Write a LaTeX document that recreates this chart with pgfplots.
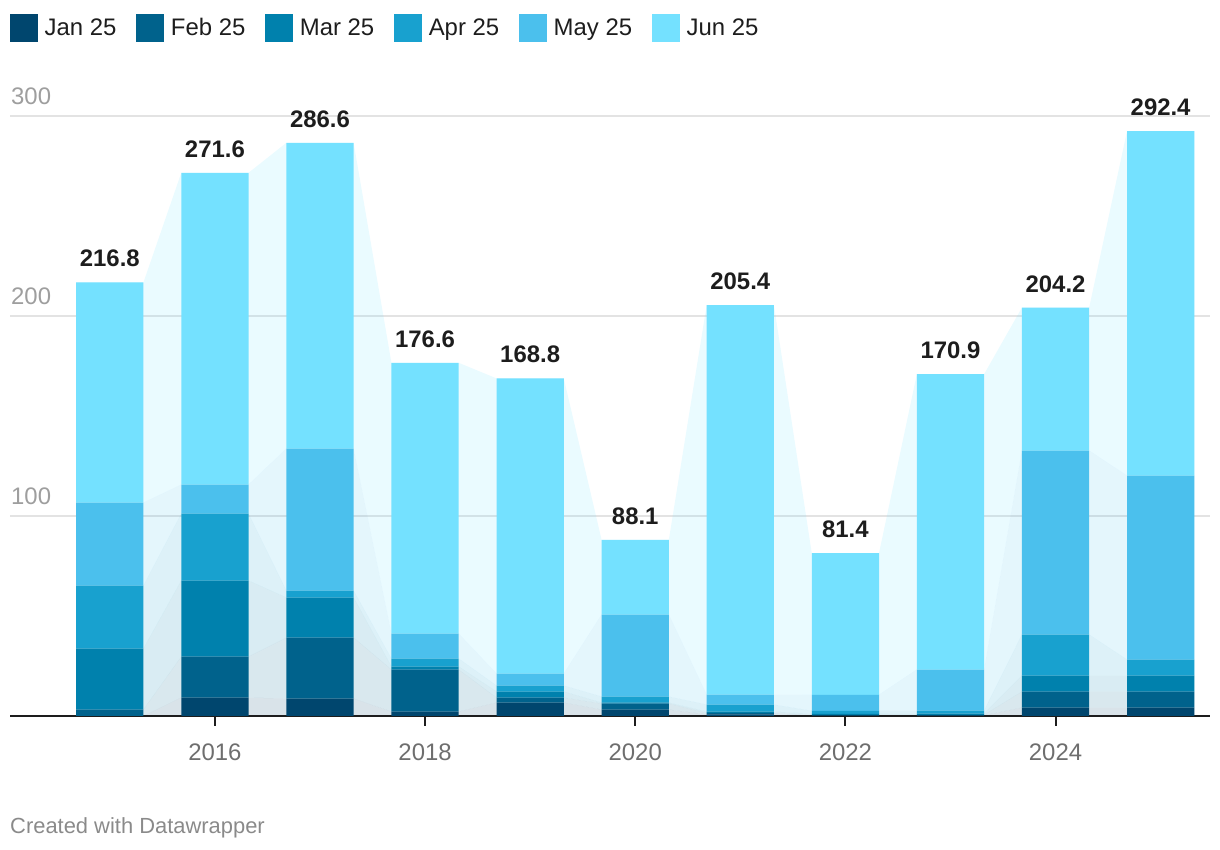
\documentclass[border=0pt]{standalone}
\usepackage{fontspec}
\setmainfont{Liberation Sans}
\usepackage{pgfplots}
\usepackage{pgfplotstable}
\pgfplotsset{compat=1.18}

\definecolor{cJan}{HTML}{00466E}
\definecolor{cFeb}{HTML}{00628C}
\definecolor{cMar}{HTML}{0081AD}
\definecolor{cApr}{HTML}{18A1CF}
\definecolor{cMay}{HTML}{4BC0ED}
\definecolor{cJun}{HTML}{74E1FF}
\definecolor{gridgray}{HTML}{E3E3E3}
\definecolor{ygray}{HTML}{9E9E9E}
\definecolor{xgray}{HTML}{6E6E6E}
\definecolor{footgray}{HTML}{8A8A8A}
\definecolor{txtblack}{HTML}{1D1D1D}

\pgfplotstableread{
year jan feb mar apr may jun total
2015 0   3.2  30.5 31.5 41.5 110.1 216.8
2016 9.2 20.5 38   33.5 14.5 155.9 271.6
2017 8.7 30.5 20   3.5  71   152.9 286.6
2018 2.2 21   1.5  4    12.5 135.4 176.6
2019 6.7 2.5  3    3    6    147.6 168.8
2020 3.2 3    0.5  3    41   37.4  88.1
2021 0.8 0.7  0.7  3.5  5    194.7 205.4
2022 0.3 0.3  0.5  1.5  8    70.8  81.4
2023 0.3 0.3  0.6  1.5  20.5 147.7 170.9
2024 4.2 8    8    20.5 92   71.5  204.2
2025 4.2 8    8    8    92   172.2 292.4
}\bars

\pgfplotstableread{
x jan feb mar apr may jun
2014.68 0   3.2  30.5 31.5 41.5 110.1
2015.32 0   3.2  30.5 31.5 41.5 110.1
2015.68 9.2 20.5 38   33.5 14.5 155.9
2016.32 9.2 20.5 38   33.5 14.5 155.9
2016.68 8.7 30.5 20   3.5  71   152.9
2017.32 8.7 30.5 20   3.5  71   152.9
2017.68 2.2 21   1.5  4    12.5 135.4
2018.32 2.2 21   1.5  4    12.5 135.4
2018.68 6.7 2.5  3    3    6    147.6
2019.32 6.7 2.5  3    3    6    147.6
2019.68 3.2 3    0.5  3    41   37.4
2020.32 3.2 3    0.5  3    41   37.4
2020.68 0.8 0.7  0.7  3.5  5    194.7
2021.32 0.8 0.7  0.7  3.5  5    194.7
2021.68 0.3 0.3  0.5  1.5  8    70.8
2022.32 0.3 0.3  0.5  1.5  8    70.8
2022.68 0.3 0.3  0.6  1.5  20.5 147.7
2023.32 0.3 0.3  0.6  1.5  20.5 147.7
2023.68 4.2 8    8    20.5 92   71.5
2024.32 4.2 8    8    20.5 92   71.5
2024.68 4.2 8    8    8    92   172.2
2025.32 4.2 8    8    8    92   172.2
}\areas

\newcommand\fsize[1]{\fontsize{#1}{#1}\selectfont}

\begin{document}
\begin{tikzpicture}
\path[use as bounding box] (0,0) rectangle (1220bp,850bp);

% background axis: grid, ticks, connector areas
\begin{axis}[
  at={(10bp,134bp)}, anchor=south west,
  scale only axis, width=1200bp, height=600bp,
  xmin=2014.05, xmax=2025.47, ymin=0, ymax=300,
  axis x line*=bottom, axis y line*=left,
  x axis line style={draw=none}, y axis line style={draw=none},
  ytick={100,200,300}, yticklabels={100,200,300},
  ytick style={draw=none},
  ymajorgrids, grid style={draw=gridgray, line width=1.8bp},
  xtick={2016,2018,2020,2022,2024},
  xticklabels={2016,2018,2020,2022,2024},
  tick align=outside, major tick length=10bp,
  xtick style={draw=txtblack, line width=2bp},
  yticklabel style={anchor=south west, inner sep=0pt, xshift=11bp, yshift=11bp,
    text=ygray, font=\fsize{24}},
  xticklabel style={text=xgray, font=\fsize{24}, yshift=-14bp},
  stack plots=y, clip=false,
]
\addplot[fill=cJan, fill opacity=0.15, draw=none] table[x=x, y=jan]{\areas} \closedcycle;
\addplot[fill=cFeb, fill opacity=0.15, draw=none] table[x=x, y=feb]{\areas} \closedcycle;
\addplot[fill=cMar, fill opacity=0.15, draw=none] table[x=x, y=mar]{\areas} \closedcycle;
\addplot[fill=cApr, fill opacity=0.15, draw=none] table[x=x, y=apr]{\areas} \closedcycle;
\addplot[fill=cMay, fill opacity=0.15, draw=none] table[x=x, y=may]{\areas} \closedcycle;
\addplot[fill=cJun, fill opacity=0.15, draw=none] table[x=x, y=jun]{\areas} \closedcycle;
\end{axis}

% foreground axis: stacked bars, legend
\begin{axis}[
  at={(10bp,134bp)}, anchor=south west,
  scale only axis, width=1200bp, height=600bp,
  xmin=2014.05, xmax=2025.47, ymin=0, ymax=300,
  axis lines=none,
  ybar stacked, bar width=0.64,
  clip=false,
  legend columns=6,
  legend image code/.code={\fill[#1] (0bp,-14bp) rectangle (27.5bp,13.5bp);},
  legend style={at={(0,1.17)}, anchor=north west, draw=none, fill=none,
    inner sep=0pt, font=\fsize{24}, text=txtblack,
    /tikz/every odd column/.append style={column sep=5bp},
    /tikz/every even column/.append style={column sep=18bp},
    cells={anchor=west}},
]
\addplot[fill=cJan, draw=none] table[x=year, y=jan]{\bars};
\addplot[fill=cFeb, draw=none] table[x=year, y=feb]{\bars};
\addplot[fill=cMar, draw=none] table[x=year, y=mar]{\bars};
\addplot[fill=cApr, draw=none] table[x=year, y=apr]{\bars};
\addplot[fill=cMay, draw=none] table[x=year, y=may]{\bars};
\addplot[fill=cJun, draw=none] table[x=year, y=jun]{\bars};
\legend{Jan 25, Feb 25, Mar 25, Apr 25, May 25, Jun 25}
\draw[line width=2.5bp, color=txtblack] (axis cs:2014.05,0) -- (axis cs:2025.47,0);
\end{axis}

% labels axis: totals above the bars
\begin{axis}[
  at={(10bp,134bp)}, anchor=south west,
  scale only axis, width=1200bp, height=600bp,
  xmin=2014.05, xmax=2025.47, ymin=0, ymax=300,
  axis lines=none, clip=false,
]
\addplot[draw=none, mark=none,
  nodes near coords, point meta=explicit symbolic,
  every node near coord/.append style={anchor=south, inner sep=0pt, yshift=15bp,
    font=\fsize{24}\bfseries, text=txtblack}]
  table[x=year, y=total, meta=total]{\bars};
\end{axis}

\node[anchor=base west, inner sep=0pt, text=footgray, font=\fsize{22}] at (10bp,17bp) {Created with Datawrapper};
\end{tikzpicture}
\end{document}
